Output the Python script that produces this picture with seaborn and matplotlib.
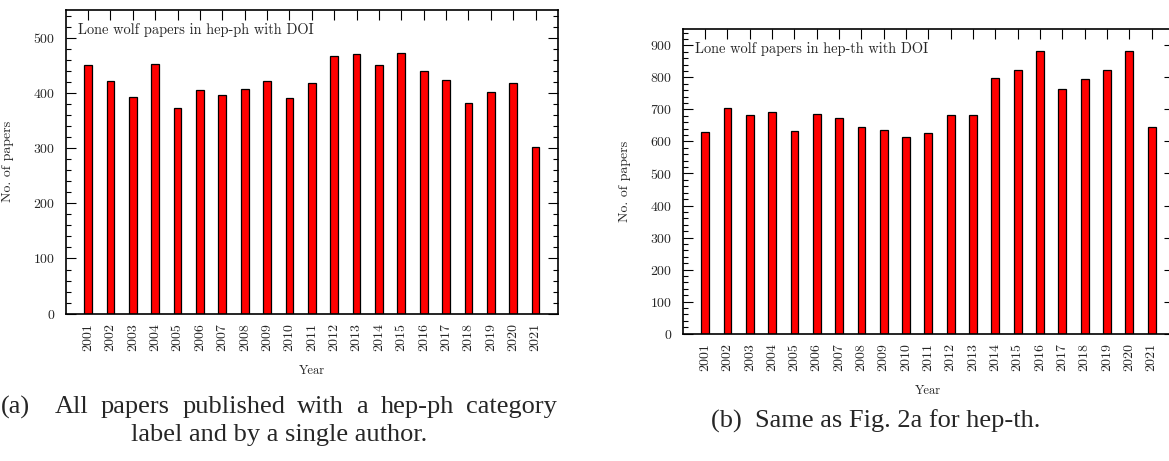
import matplotlib
matplotlib.use("Agg")
import matplotlib.pyplot as plt
from matplotlib.ticker import MultipleLocator
import seaborn as sns
import pandas as pd

years = [str(y) for y in range(2001, 2022)]
hep_ph = [450, 421, 393, 453, 373, 406, 396, 407, 421, 390, 417,
          466, 470, 450, 473, 440, 423, 382, 401, 418, 301]
hep_th = [629, 705, 682, 693, 633, 685, 672, 646, 635, 615, 627,
          683, 682, 797, 824, 882, 764, 795, 822, 882, 644]
labels_in = ["Lone wolf papers in hep-ph with DOI",
             "Lone wolf papers in hep-th with DOI"]
cap_a_line1 = ["(a)", "All", "papers", "published", "with", "a", "hep-ph", "category"]
cap_a_line2 = "label and by a single author."
cap_b = "(b)  Same as Fig. 2a for hep-th."

sns.set_style("ticks")
plt.rcParams["font.family"] = ["cmr10", "DejaVu Serif"]
plt.rcParams["axes.formatter.use_mathtext"] = True
plt.rcParams["mathtext.fontset"] = "cm"

W, H = 1169, 461
fig = plt.figure(figsize=(W / 100, H / 100), dpi=100)
fig.patch.set_facecolor("white")

def frac_box(x0, y0, x1, y1):
    return [x0 / W, 1 - y1 / H, (x1 - x0) / W, (y1 - y0) / H]

ax1 = fig.add_axes(frac_box(65.7, 10, 558, 313.7))
ax2 = fig.add_axes(frac_box(682.7, 29.3, 1174, 333.7))

for ax, vals, ymax, lab in [(ax1, hep_ph, 550, labels_in[0]),
                            (ax2, hep_th, 950, labels_in[1])]:
    df = pd.DataFrame({"Year": years, "n": vals})
    sns.barplot(data=df, x="Year", y="n", color="#ff0000", saturation=1,
                width=0.345, edgecolor="black", linewidth=0.9, ax=ax)
    ax.set_xlim(-1, 21)
    ax.set_ylim(0, ymax)
    ax.yaxis.set_major_locator(MultipleLocator(100))
    ax.yaxis.set_minor_locator(MultipleLocator(20))
    ax.tick_params(axis="y", which="major", direction="in", length=7.2, width=0.8,
                   left=True, right=True, labelsize=10, pad=7.5, color="black")
    ax.tick_params(axis="y", which="minor", direction="in", length=3.6, width=0.8,
                   left=True, right=True, color="black")
    ax.tick_params(axis="x", which="major", direction="in", length=7.2, width=0.8,
                   bottom=False, top=True, labelsize=10, pad=6.5, rotation=90,
                   color="black")
    ax.tick_params(axis="x", which="minor", bottom=False, top=False)
    for s in ax.spines.values():
        s.set_visible(True)
        s.set_linewidth(1.2)
        s.set_color("black")
    ax.set_ylabel("No. of papers", fontsize=10)
    ax.set_xlabel("Year", fontsize=9)
    ax.yaxis.set_label_coords(-0.105, 0.5)
    ax.xaxis.set_label_coords(0.5, -0.168)
    ax.text(12.5 / 492.3, 1 - 20 / 303.7, lab, transform=ax.transAxes,
            ha="left", va="center", fontsize=10.4)
    ax.grid(False)
    ax.set_facecolor("white")

# Caption (a): first line justified between x=1 and x=557 px, like LaTeX
cap_size = 19
cap_kw = dict(family="Liberation Serif", fontsize=cap_size, va="center", ha="left")
renderer = fig.canvas.get_renderer()
x_left, x_right = 1.0, 557.0
y1 = 1 - 407 / H
words = []
total_w = 0.0
for w in cap_a_line1:
    t = fig.text(0, y1, w, **cap_kw)
    bb = t.get_window_extent(renderer)
    words.append((t, bb.width))
    total_w += bb.width
gaps = [2.0] + [1.0] * (len(cap_a_line1) - 2)
slack = (x_right - x_left) - total_w
unit = slack / sum(gaps)
x = x_left
for i, (t, wd) in enumerate(words):
    t.set_x(x / W)
    x += wd
    if i < len(gaps):
        x += gaps[i] * unit
fig.text(279 / W, 1 - 435 / H, cap_a_line2, family="Liberation Serif",
         fontsize=cap_size, ha="center", va="center")
fig.text(876 / W, 1 - 421 / H, cap_b, ha="center", va="center",
         family="Liberation Serif", fontsize=cap_size)

fig.savefig("out.png", dpi=100, facecolor="white")
